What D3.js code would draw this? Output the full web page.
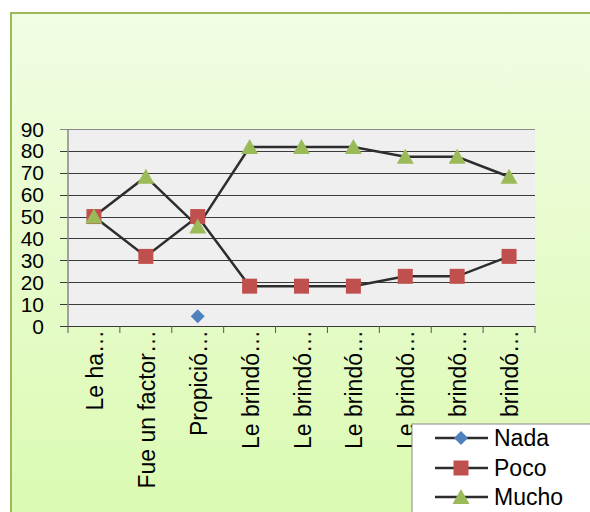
<!DOCTYPE html>
<html>
<head>
<meta charset="utf-8">
<script src="https://cdn.jsdelivr.net/npm/d3@7"></script>
<style>
  html, body { margin: 0; padding: 0; background: #ffffff; }
  svg { display: block; font-family: "Liberation Sans", Arial, sans-serif; }
</style>
</head>
<body>
<svg id="chart" width="590" height="512"></svg>
<script>
const categories = ["Le ha…", "Fue un factor…", "Propició…", "Le brindó…", "Le brindó…", "Le brindó…", "Le brindó…", "Le brindó…", "Le brindó…"];
const nada  = [null, null, 4.5, null, null, null, null, null, null];
const poco  = [50, 31.8, 50, 18.2, 18.2, 18.2, 22.7, 22.7, 31.8];
const mucho = [50, 68.2, 45.5, 81.8, 81.8, 81.8, 77.3, 77.3, 68.2];
const yTicks = [0, 10, 20, 30, 40, 50, 60, 70, 80, 90];
const seriesNames = ["Nada", "Poco", "Mucho"];

const series = [
  { name: seriesNames[0], values: nada,  color: "#4f81bd", shape: "diamond" },
  { name: seriesNames[1], values: poco,  color: "#c0504d", shape: "square" },
  { name: seriesNames[2], values: mucho, color: "#9bbb59", shape: "triangle" }
];

const svg = d3.select("#chart");
const defs = svg.append("defs");
const grad = defs.append("linearGradient").attr("id", "bg").attr("x1", 0).attr("y1", 0).attr("x2", 0).attr("y2", 1);
grad.append("stop").attr("offset", "0%").attr("stop-color", "#f1fde4");
grad.append("stop").attr("offset", "100%").attr("stop-color", "#dafaae");

// chart area
svg.append("rect").attr("x", 11).attr("y", 13).attr("width", 620).attr("height", 540)
  .attr("fill", "url(#bg)").attr("stroke", "#9bbb59").attr("stroke-width", 2);

const pLeft = 68, pRight = 535, pTop = 129, pBottom = 326;
const x = d3.scaleBand().domain(d3.range(categories.length)).range([pLeft, pRight]).padding(0);
const y = d3.scaleLinear().domain([0, 90]).range([pBottom, pTop]);
const cx = i => x(i) + x.bandwidth() / 2;

// plot background
svg.append("rect").attr("x", pLeft).attr("y", pTop).attr("width", pRight - pLeft).attr("height", pBottom - pTop)
  .attr("fill", "#efefef");

// gridlines via d3.axisLeft (drawn from the right edge leftwards, extending 8px past the axis)
const yAxis = d3.axisLeft(y).tickValues(yTicks).tickSize(pRight - pLeft + 8).tickPadding(0).tickFormat(d3.format("d"));
const gy = svg.append("g").attr("transform", `translate(${pRight},0)`).call(yAxis);
gy.select(".domain").remove();
gy.selectAll(".tick line").attr("stroke", d => d === 90 ? "#8a8a8a" : "#3a3a3a").attr("stroke-width", 1)
  .attr("shape-rendering", "crispEdges");
gy.selectAll(".tick text").remove();

// y labels
svg.append("g").selectAll("text").data(yTicks).join("text")
  .attr("x", 44).attr("y", d => y(d)).attr("dy", "0.36em")
  .attr("text-anchor", "end").attr("font-size", 21).attr("fill", "#000")
  .text(d => d);

// left axis line
svg.append("line").attr("x1", pLeft).attr("x2", pLeft).attr("y1", pTop).attr("y2", pBottom)
  .attr("stroke", "#868686").attr("stroke-width", 1.5);

// x axis
const xAxis = d3.axisBottom(x).tickValues([]).tickSizeOuter(0);
const gx = svg.append("g").attr("transform", `translate(0,${pBottom})`).call(xAxis);
gx.select(".domain").attr("stroke", "#3a3a3a");
const bounds = d3.range(categories.length + 1).map(i => pLeft + i * x.bandwidth());
svg.append("g").selectAll("line").data(bounds).join("line")
  .attr("x1", d => d).attr("x2", d => d).attr("y1", pBottom).attr("y2", pBottom + 7)
  .attr("stroke", "#555").attr("stroke-width", 1);

// x labels
svg.append("g").selectAll("text").data(categories).join("text")
  .attr("transform", (d, i) => `translate(${cx(i) + 1},330) rotate(-90)`)
  .attr("dy", "0.35em").attr("text-anchor", "end").attr("font-size", 23).attr("fill", "#000")
  .text(d => d);

// lines
const line = d3.line().defined(d => d != null).x((d, i) => cx(i)).y(d => y(d));
series.forEach(s => {
  svg.append("path").datum(s.values).attr("d", line)
    .attr("fill", "none").attr("stroke", "#2d2d2d").attr("stroke-width", 2.5);
});

function shapePath(shape) {
  if (shape === "diamond") return "M0,-7L7,0L0,7L-7,0Z";
  if (shape === "square") return "M-7.5,-7.5H7.5V7.5H-7.5Z";
  return "M0,-8L8.5,7L-8.5,7Z";
}

series.forEach(s => {
  svg.append("g").selectAll("path")
    .data(s.values.map((v, i) => ({ v, i })).filter(d => d.v != null))
    .join("path")
    .attr("transform", d => `translate(${cx(d.i)},${y(d.v)})`)
    .attr("d", shapePath(s.shape)).attr("fill", s.color);
});

// legend
const lg = svg.append("g");
lg.append("rect").attr("x", 412).attr("y", 424).attr("width", 200).attr("height", 110)
  .attr("fill", "#ffffff").attr("stroke", "#8a8a8a").attr("stroke-width", 1);
const rowY = [438, 468, 497];
series.forEach((s, k) => {
  const ry = rowY[k];
  lg.append("line").attr("x1", 435).attr("x2", 488).attr("y1", ry).attr("y2", ry)
    .attr("stroke", "#2d2d2d").attr("stroke-width", 2.5);
  lg.append("path").attr("transform", `translate(461,${ry})`).attr("d", shapePath(s.shape)).attr("fill", s.color);
  lg.append("text").attr("x", 494).attr("y", ry).attr("dy", "0.36em")
    .attr("font-size", 23).attr("fill", "#000").text(s.name);
});
</script>
</body>
</html>
